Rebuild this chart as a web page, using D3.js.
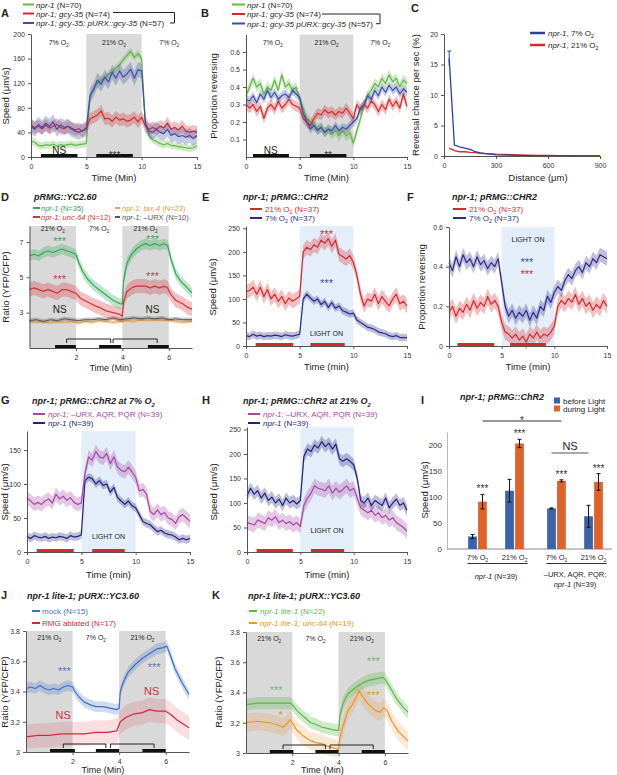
<!DOCTYPE html>
<html><head><meta charset="utf-8">
<script src="https://cdn.jsdelivr.net/npm/d3@7"></script>
<style>
body{margin:0;background:#fff;}
svg{font-family:"Liberation Sans",Arial,sans-serif;}
</style></head>
<body><svg id="svg" width="617" height="775"></svg>
<script>
// ---- data ----
// 15-min assays sampled every 20 s
const t15 = d3.range(46).map(i => +(i / 3).toFixed(3));

// A: speed (um/s)
const aGreen = [26,24,19,18,20,19,21,18,20,19,20,21,19,20,21, 22, 98,112,120,125,128,135,138,145,150,158,165,172,162,168, 160, 55,35,28,25,22,20,22,19,18,17,16,15,14,15,18];
const aRed = [52,48,50,46,52,47,50,53,48,46,50,47,44,46,42, 48, 62,65,68,75,62,63,58,65,60,62,58,60,65,57, 65, 50,45,48,45,50,47,55,45,48,44,50,42,40,42,40];
const aBlue = [50,45,53,48,55,50,57,45,52,48,50,45,42,40,43, 45, 100,110,125,118,130,122,138,128,140,130,135,143,128,142, 140, 55,42,40,45,40,38,45,35,38,33,35,32,35,30,35];
// B: proportion reversing
const bGreen = [0.35,0.40,0.45,0.40,0.42,0.36,0.40,0.38,0.44,0.38,0.47,0.40,0.42,0.38,0.40, 0.33, 0.28,0.22,0.20,0.18,0.16,0.17,0.14,0.16,0.13,0.15,0.12,0.15,0.12,0.14, 0.08, 0.15,0.22,0.30,0.35,0.38,0.42,0.40,0.45,0.42,0.47,0.43,0.45,0.40,0.44,0.42];
const bRed = [0.30,0.28,0.30,0.26,0.29,0.22,0.28,0.30,0.27,0.32,0.28,0.30,0.33,0.30,0.29, 0.28, 0.22,0.20,0.18,0.22,0.25,0.24,0.27,0.25,0.26,0.24,0.26,0.25,0.28,0.25, 0.22, 0.30,0.27,0.30,0.28,0.32,0.30,0.26,0.30,0.27,0.33,0.29,0.32,0.28,0.36,0.29];
const bBlue = [0.33,0.32,0.35,0.31,0.36,0.33,0.38,0.34,0.37,0.33,0.35,0.36,0.34,0.38,0.36, 0.34, 0.25,0.20,0.16,0.18,0.15,0.17,0.14,0.16,0.15,0.18,0.15,0.17,0.16,0.18, 0.20, 0.22,0.28,0.30,0.35,0.33,0.38,0.35,0.40,0.37,0.41,0.38,0.40,0.36,0.39,0.37];
// C: reversal chance vs distance
const cDist = [30,60,90,120,150,180,210,240,270,300,360,420,480,540,600,660,720,780,840,900];
const cBlue = [16,1.8,1.5,1.3,1.1,0.7,0.5,0.4,0.3,0.2,0.15,0.1,0.05,0.05,0.03,0.02,0.02,0.01,0.01,0];
const cRed = [1.3,0.9,0.7,0.7,0.6,0.55,0.45,0.4,0.35,0.3,0.25,0.2,0.15,0.1,0.08,0.05,0.04,0.03,0.02,0.01];
const cBlueErr0 = 1.2;
// D: RMG YC2.60 ratio, [min, ratio]
const dGreen = [[0,6.2],[0.2,6.3],[0.4,6.2],[0.6,6.4],[0.8,6.5],[1.0,6.4],[1.2,6.5],[1.4,6.6],[1.6,6.5],[1.8,6.4],[2.0,6.3],[2.1,5.9],[2.3,5.3],[2.5,4.9],[2.8,4.5],[3.0,4.3],[3.3,4.0],[3.6,3.7],[3.9,3.5],[4.0,3.5],[4.05,4.8],[4.2,5.8],[4.4,6.3],[4.6,6.6],[4.8,6.8],[5.0,6.9],[5.2,6.8],[5.4,6.9],[5.6,6.8],[5.8,6.9],[5.95,6.8],[6.1,6.0],[6.3,5.2],[6.5,4.8],[6.8,4.4],[7.0,4.1]];
const dRed = [[0,4.3],[0.2,4.4],[0.4,4.3],[0.6,4.2],[0.8,4.3],[1.0,4.2],[1.2,4.1],[1.4,4.3],[1.6,4.3],[1.8,4.2],[2.0,4.1],[2.2,3.8],[2.5,3.6],[2.8,3.4],[3.0,3.3],[3.3,3.1],[3.6,3.0],[3.9,2.9],[4.0,2.8],[4.05,3.6],[4.2,4.2],[4.4,4.4],[4.6,4.5],[4.8,4.5],[5.0,4.5],[5.2,4.4],[5.4,4.5],[5.6,4.4],[5.8,4.5],[5.95,4.4],[6.1,4.0],[6.3,3.7],[6.6,3.5],[6.8,3.3],[7.0,3.2]];
const dOrange = [[0,2.5],[0.3,2.45],[0.6,2.5],[0.9,2.4],[1.2,2.5],[1.5,2.45],[1.8,2.5],[2.1,2.4],[2.4,2.5],[2.7,2.45],[3.0,2.55],[3.3,2.5],[3.6,2.45],[3.9,2.5],[4.2,2.55],[4.5,2.5],[4.8,2.6],[5.1,2.55],[5.4,2.6],[5.7,2.55],[6.0,2.6],[6.3,2.5],[6.6,2.45],[7.0,2.5]];
const dGray = [[0,2.55],[0.3,2.6],[0.6,2.5],[0.9,2.6],[1.2,2.55],[1.5,2.65],[1.8,2.6],[2.1,2.55],[2.4,2.6],[2.7,2.6],[3.0,2.65],[3.3,2.6],[3.6,2.7],[3.9,2.6],[4.2,2.65],[4.5,2.7],[4.8,2.65],[5.1,2.7],[5.4,2.65],[5.7,2.7],[6.0,2.6],[6.3,2.65],[6.6,2.6],[7.0,2.6]];
// E/F: ChR2 in RMG, 21% vs 7% O2
const eRed = [115,118,125,110,125,105,120,100,110,95,105,90,102,95,100, 105, 200,210,205,215,210,225,218,228,212,225,195,190,185,192, 178, 150,110,85,100,95,110,90,105,95,85,100,110,90,95,85];
const eBlue = [22,20,25,21,23,20,22,21,23,22,20,24,22,21,23, 25, 100,110,102,95,100,88,95,82,92,80,85,75,72,68, 70, 55,50,45,40,38,35,30,28,26,22,20,22,18,18,18];
const fBlue = [0.42,0.38,0.45,0.40,0.46,0.42,0.44,0.40,0.45,0.41,0.43,0.39,0.42,0.40,0.44, 0.32, 0.20,0.15,0.18,0.14,0.17,0.15,0.18,0.13,0.17,0.14,0.20,0.18,0.25,0.22, 0.27, 0.30,0.28,0.33,0.36,0.34,0.38,0.40,0.37,0.42,0.40,0.44,0.42,0.46,0.45,0.44];
const fRed = [0.17,0.20,0.15,0.19,0.17,0.21,0.18,0.23,0.19,0.22,0.20,0.25,0.21,0.23,0.20, 0.12, 0.07,0.06,0.04,0.06,0.03,0.05,0.02,0.06,0.04,0.07,0.04,0.06,0.05,0.07, 0.10, 0.20,0.23,0.21,0.24,0.22,0.26,0.21,0.24,0.20,0.22,0.18,0.21,0.19,0.23,0.20];
// G/H: -URX,AQR,PQR vs npr-1
const gPurple = [80,75,70,73,70,75,78,72,85,78,82,76,80,73,70, 72, 115,140,135,148,140,138,145,130,140,125,120,118,125,118, 110, 90,92,85,60,55,62,55,58,50,48,42,52,55,50,45];
const gNavy = [23,20,24,22,21,23,20,22,21,23,22,20,24,22,23, 25, 105,110,108,100,105,98,100,88,95,80,75,70,75,68, 65, 55,45,42,40,35,30,32,28,26,25,22,18,20,18,20];
const hNavy = [115,130,118,125,110,120,105,112,100,108,95,110,100,105,98, 105, 195,210,205,218,212,225,215,222,210,220,190,185,190,185, 178, 150,105,100,110,95,105,100,95,110,90,100,108,95,100,85];
const hPurple = [60,58,55,65,62,58,70,65,72,60,65,58,62,55,60, 52, 95,110,120,135,130,128,125,135,120,130,122,128,135,125, 130, 110,90,85,80,85,75,80,70,75,65,70,60,55,50,42];
// I: bar chart
const iGroups = ["npr-1", "URX"];
const iConds = ["7%", "21%"];
const iPhases = ["before", "during"];
const iBefore = [24, 112, 78, 63];
const iBeforeErr = [4, 22, 1, 21];
const iDuring = [91, 203, 131, 129];
const iDuringErr = [14, 8, 2, 16];
// J/K: URX YC3.60 ratio
const jMock = [[0,3.42],[0.2,3.43],[0.4,3.42],[0.6,3.44],[0.8,3.42],[1.0,3.41],[1.2,3.42],[1.4,3.41],[1.6,3.43],[1.8,3.44],[2.0,3.43],[2.1,3.40],[2.3,3.36],[2.5,3.33],[2.8,3.31],[3.0,3.30],[3.3,3.30],[3.6,3.29],[3.9,3.28],[4.0,3.29],[4.05,3.40],[4.2,3.47],[4.4,3.53],[4.7,3.58],[5.0,3.62],[5.3,3.65],[5.6,3.68],[5.9,3.69],[6.05,3.70],[6.2,3.64],[6.4,3.55],[6.7,3.46],[7.0,3.38]];
const jRmg = [[0,3.10],[0.5,3.11],[1.0,3.11],[1.5,3.12],[2.0,3.12],[2.5,3.12],[3.0,3.13],[3.5,3.13],[3.9,3.14],[4.05,3.20],[4.3,3.23],[4.6,3.25],[5.0,3.26],[5.3,3.28],[5.6,3.27],[6.0,3.27],[6.2,3.25],[6.5,3.21],[6.8,3.18],[7.0,3.16]];
const kGreen = [[0,3.32],[0.5,3.33],[1.0,3.33],[1.5,3.33],[1.9,3.33],[2.0,3.32],[2.2,3.28],[2.5,3.24],[2.8,3.20],[3.0,3.19],[3.3,3.17],[3.6,3.16],[3.9,3.15],[4.0,3.15],[4.05,3.24],[4.2,3.33],[4.4,3.39],[4.7,3.43],[5.0,3.46],[5.3,3.48],[5.6,3.49],[5.9,3.50],[6.0,3.49],[6.2,3.44],[6.5,3.36],[6.8,3.30],[7.0,3.27]];
const kOrange = [[0,3.20],[0.5,3.21],[1.0,3.20],[1.3,3.19],[1.6,3.17],[1.75,3.19],[1.9,3.22],[2.0,3.20],[2.2,3.15],[2.5,3.11],[2.8,3.08],[3.0,3.07],[3.3,3.06],[3.6,3.04],[3.9,3.03],[4.0,3.02],[4.05,3.10],[4.2,3.18],[4.4,3.28],[4.6,3.32],[4.8,3.38],[4.9,3.41],[5.1,3.36],[5.3,3.32],[5.6,3.28],[5.8,3.27],[5.95,3.30],[6.1,3.28],[6.3,3.21],[6.6,3.14],[7.0,3.08]];

// ---- helpers ----
const svg = d3.select("svg");
const GRAY = "#d9d9d9", LBLUE = "#e4eef9", BARRED = "#d42a2f";
const zip = v => t15.map((t, i) => [t, v[i]]);

// "{...}" italic, "~x" subscript x
function rich(t, s, fs) {
  let it = false, buf = "", dy = 0;
  const flush = () => {
    if (!buf) return;
    const sp = t.append("tspan").text(buf);
    if (it) sp.attr("font-style", "italic");
    if (dy) { sp.attr("dy", dy); dy = 0; }
    buf = "";
  };
  for (let i = 0; i < s.length; i++) {
    const c = s[i];
    if (c === "{") { flush(); it = true; }
    else if (c === "}") { flush(); it = false; }
    else if (c === "~") {
      flush(); i++;
      t.append("tspan").attr("font-size", fs * 0.65).attr("dy", dy + fs * 0.3).text(s[i]);
      dy = -fs * 0.3;
    } else buf += c;
  }
  flush();
}
function label(x, y, s, o = {}) {
  const fs = o.fs || 8;
  const t = svg.append("text").attr("x", x).attr("y", y)
    .attr("font-size", fs).attr("fill", o.c || "#222")
    .attr("text-anchor", o.a || "start");
  if (o.b) t.attr("font-weight", "bold");
  if (o.i) t.attr("font-style", "italic");
  if (o.r) t.attr("transform", `rotate(-90,${x},${y})`);
  rich(t, s, fs);
  return t;
}
function axes(x, y, xt, yt) {
  const gx = svg.append("g").attr("transform", `translate(0,${y.range()[0]})`)
    .call(d3.axisBottom(x).tickValues(xt).tickSize(3).tickSizeOuter(0).tickFormat(d => d));
  const gy = svg.append("g").attr("transform", `translate(${x.range()[0]},0)`)
    .call(d3.axisLeft(y).tickValues(yt).tickSize(3).tickSizeOuter(0).tickFormat(d => d));
  [gx, gy].forEach(g => {
    g.attr("font-family", null).attr("font-size", 7);
    g.selectAll("text").attr("fill", "#333");
    g.selectAll("line,path").attr("stroke", "#555");
  });
  gx.selectAll("text").attr("dy", "0.8em");
}
function shade(x, y, a, b, fill) {
  const [yb, yt] = y.range();
  svg.append("rect").attr("x", x(a)).attr("y", yt).attr("width", x(b) - x(a))
    .attr("height", yb - yt).attr("fill", fill);
}
function trace(x, y, pts, sem, color, w = 1.2, op = 0.3) {
  svg.append("path").datum(pts).attr("fill", color).attr("fill-opacity", op)
    .attr("d", d3.area().x(d => x(d[0])).y0(d => y(d[1] - sem)).y1(d => y(d[1] + sem)));
  svg.append("path").datum(pts).attr("fill", "none").attr("stroke", color)
    .attr("stroke-width", w).attr("stroke-linejoin", "round")
    .attr("d", d3.line().x(d => x(d[0])).y(d => y(d[1])));
}
function hbar(x, yy, a, b, color = "#111") {
  svg.append("line").attr("x1", x(a)).attr("x2", x(b)).attr("y1", yy).attr("y2", yy)
    .attr("stroke", color).attr("stroke-width", 3);
}
function bracket(x, yy, a, b) {
  svg.append("path").attr("d", `M${x(a)},${yy + 4}V${yy}H${x(b)}V${yy + 4}`)
    .attr("fill", "none").attr("stroke", "#222").attr("stroke-width", 1);
}
function lline(x1, x2, yy, color, w = 2) {
  svg.append("line").attr("x1", x1).attr("x2", x2).attr("y1", yy).attr("y2", yy)
    .attr("stroke", color).attr("stroke-width", w);
}
function stars(x, yy, s, color = "#333", fs = 10) {
  label(x, yy, s, {a: "middle", fs: fs, c: color});
}

// ---- A ----
{
  const x = d3.scaleLinear().domain([0, 15]).range([31, 197]);
  const y = d3.scaleLinear().domain([0, 200]).range([157, 34]);
  shade(x, y, 5, 10, GRAY);
  ["7% O~2", "21% O~2", "7% O~2"].forEach((s, i) => label(x(2.5 + 5 * i), 45, s, {a: "middle", fs: 7}));
  trace(x, y, zip(aGreen), 6, "#62b848");
  trace(x, y, zip(aRed), 10, "#d42a2f");
  trace(x, y, zip(aBlue), 12, "#3b4fa6");
  axes(x, y, [0, 5, 10, 15], [0, 40, 80, 120, 160, 200]);
  hbar(x, 155.5, 0.9, 4.2); hbar(x, 155.5, 5.9, 9.2);
  label(x(2.55), 153.5, "NS", {a: "middle", fs: 10});
  stars(x(7.55), 159, "***");
  label(x(7.5), 181, "Time (Min)", {a: "middle", fs: 9.5});
  label(9, 96, "Speed (μm/s)", {a: "middle", fs: 9.5, r: true});
  label(1, 17, "A", {b: true, fs: 11});
  lline(23, 34, 4.5, "#62b848"); lline(23, 34, 13.5, "#d42a2f"); lline(23, 34, 23, "#3b4fa6");
  label(36, 7.5, "{npr-1}  (N=70)");
  label(36, 16.5, "{npr-1; gcy-35} (N=74)");
  label(36, 26, "{npr-1; gcy-35; pURX::gcy-35} (N=57)");
  svg.append("path").attr("d", "M113,12.5H174.5V23H170").attr("fill", "none").attr("stroke", "#222");
}

// ---- B ----
{
  const x = d3.scaleLinear().domain([0, 15]).range([246, 407]);
  const y = d3.scaleLinear().domain([0, 0.7]).range([157, 34.5]);
  shade(x, y, 5, 10, GRAY);
  ["7% O~2", "21% O~2", "7% O~2"].forEach((s, i) => label(x(2.5 + 5 * i), 45, s, {a: "middle", fs: 7}));
  trace(x, y, zip(bGreen), 0.03, "#62b848");
  trace(x, y, zip(bRed), 0.03, "#d42a2f");
  trace(x, y, zip(bBlue), 0.025, "#3b4fa6");
  axes(x, y, [0, 5, 10, 15], [0.1, 0.2, 0.3, 0.4, 0.5, 0.6]);
  hbar(x, 155.5, 0.65, 4.0); hbar(x, 155.5, 5.95, 9.35);
  label(x(2.3), 153.5, "NS", {a: "middle", fs: 10});
  stars(x(7.65), 159, "**");
  label(x(7.5), 181, "Time (Min)", {a: "middle", fs: 9.5});
  label(217, 96, "Proportion reversing", {a: "middle", fs: 9.5, r: true});
  label(201, 17, "B", {b: true, fs: 11});
  lline(232, 245, 4.5, "#62b848"); lline(232, 245, 14, "#d42a2f"); lline(232, 245, 23.5, "#3b4fa6");
  label(247, 7.5, "{npr-1}  (N=70)");
  label(247, 17, "{npr-1; gcy-35} (N=74)");
  label(247, 26.5, "{npr-1; gcy-35 pURX::gcy-35} (N=57)");
  svg.append("path").attr("d", "M322,14H380V23.7H376").attr("fill", "none").attr("stroke", "#222");
}

// ---- C ----
{
  const x = d3.scaleLinear().domain([0, 900]).range([444, 600]);
  const y = d3.scaleLinear().domain([0, 20]).range([156, 34]);
  const line = d3.line().x(d => x(d[0])).y(d => y(d[1]));
  svg.append("path").datum(cDist.map((d, i) => [d, cRed[i]])).attr("d", line)
    .attr("fill", "none").attr("stroke", "#d42a2f").attr("stroke-width", 1.3);
  svg.append("path").datum(cDist.map((d, i) => [d, cBlue[i]])).attr("d", line)
    .attr("fill", "none").attr("stroke", "#2e3f9e").attr("stroke-width", 1.3);
  const ex = x(cDist[0]);
  svg.append("path").attr("d", `M${ex},${y(cBlue[0] - cBlueErr0)}V${y(cBlue[0] + cBlueErr0)}M${ex - 2},${y(cBlue[0] + cBlueErr0)}H${ex + 2}`)
    .attr("stroke", "#2e3f9e").attr("fill", "none");
  axes(x, y, [0, 300, 600, 900], [0, 5, 10, 15, 20]);
  lline(530, 545, 33, "#2e3f9e", 2.5); lline(530, 545, 45, "#d42a2f", 2.5);
  label(548, 36, "{npr-1}, 7% O~2");
  label(548, 48, "{npr-1}, 21% O~2");
  label(538, 181, "Distance (μm)", {a: "middle", fs: 9.5});
  label(419, 95, "Reversal chance per sec (%)", {a: "middle", fs: 9.5, r: true});
  label(411, 12, "C", {b: true, fs: 11});
}

// ---- D ----
{
  const x = d3.scaleLinear().domain([0, 7]).range([29.5, 192]);
  const y = d3.scaleLinear().domain([1, 7.9]).range([348, 226]);
  shade(x, y, 0, 2, GRAY); shade(x, y, 4, 6, GRAY);
  ["21% O~2", "7% O~2", "21% O~2"].forEach((s, i) => label(x(1 + 2 * i), 231, s, {a: "middle", fs: 7}));
  trace(x, y, dOrange, 0.1, "#f2a23a", 1);
  trace(x, y, dGray, 0.12, "#555555", 1);
  trace(x, y, dRed, 0.4, "#d3333b");
  trace(x, y, dGreen, 0.3, "#2eaa55");
  axes(x, y, [2, 4, 6], [3, 5, 7]);
  stars(x(1.3), 245, "***", "#3aa85a", 11); stars(x(1.3), 283, "***", "#c83c55", 11);
  stars(x(5.3), 243, "***", "#3aa85a", 11); stars(x(5.3), 280, "***", "#c83c55", 11);
  label(x(1.3), 313, "NS", {a: "middle", fs: 10}); label(x(5.3), 313, "NS", {a: "middle", fs: 10});
  hbar(x, 346.5, 1.1, 2); hbar(x, 346.5, 3, 3.95); hbar(x, 346.5, 5.1, 6);
  bracket(x, 339, 1.6, 3.5); bracket(x, 339, 3.6, 5.5);
  label(x(3.5), 371, "Time (Min)", {a: "middle", fs: 9});
  label(9, 287, "Ratio (YFP/CFP)", {a: "middle", fs: 9.5, r: true});
  label(1, 201, "D", {b: true, fs: 11});
  label(34, 200, "pRMG::YC2.60", {b: true, i: true, fs: 9});
  lline(33, 40, 208, "#2eaa55"); lline(33, 40, 217, "#d3333b");
  lline(115, 120, 208, "#f2a23a"); lline(115, 120, 217, "#555");
  label(41, 211, "{npr-1} (N=35)", {c: "#2eaa55", fs: 7.5});
  label(41, 220, "{npr-1; unc-64} (N=12)", {c: "#d3333b", fs: 7.5});
  label(122, 211, "{npr-1; tax-4} (N=23)", {c: "#e89a30", fs: 7.5});
  label(122, 220, "{npr-1;} –URX (N=10)", {c: "#555", fs: 7.5});
}

// ---- E ----
{
  const x = d3.scaleLinear().domain([0, 15]).range([246, 407]);
  const y = d3.scaleLinear().domain([0, 255]).range([346, 226]);
  shade(x, y, 5, 10, LBLUE);
  label(x(7.5), 336, "LIGHT ON", {a: "middle", fs: 7});
  trace(x, y, zip(eRed), 15, "#d42a2f");
  trace(x, y, zip(eBlue), 8, "#2b2b8c");
  axes(x, y, [0, 5, 10, 15], [0, 50, 100, 150, 200, 250]);
  hbar(x, 344.5, 0.9, 4.4, BARRED); hbar(x, 344.5, 6, 9.2, BARRED);
  stars(x(7.5), 238, "***", "#d42a2f", 11); stars(x(7.5), 287, "***", "#4a4aa8", 11);
  label(x(7.5), 370, "Time (min)", {a: "middle", fs: 9.5});
  label(216, 287, "Speed (μm/s)", {a: "middle", fs: 9.5, r: true});
  label(202, 201, "E", {b: true, fs: 11});
  label(243, 200, "npr-1; pRMG::CHR2", {b: true, i: true, fs: 9});
  lline(250, 262, 209, "#d42a2f"); lline(250, 262, 218, "#2b2b8c");
  label(265, 212, "21% O~2 (N=37)", {c: "#d42a2f"});
  label(265, 221, "7% O~2 (N=37)", {c: "#2b2b8c"});
}

// ---- F ----
{
  const x = d3.scaleLinear().domain([0, 15]).range([449, 607]);
  const y = d3.scaleLinear().domain([0, 0.6]).range([346, 227]);
  shade(x, y, 5, 10, LBLUE);
  label(x(7.5), 242, "LIGHT ON", {a: "middle", fs: 7});
  trace(x, y, zip(fRed), 0.04, "#d42a2f");
  trace(x, y, zip(fBlue), 0.035, "#2b2b8c");
  axes(x, y, [0, 5, 10, 15], [0, 0.2, 0.4, 0.6]);
  hbar(x, 344.5, 0.8, 4.3, BARRED); hbar(x, 344.5, 5.8, 9.2, BARRED);
  stars(x(7.4), 266, "***", "#4a4aa8", 11); stars(x(7.4), 278, "***", "#d42a2f", 11);
  label(x(7.5), 370, "Time (min)", {a: "middle", fs: 9.5});
  label(425, 287, "Proportion reversing", {a: "middle", fs: 9.5, r: true});
  label(407, 201, "F", {b: true, fs: 11});
  label(452, 200, "npr-1; pRMG::CHR2", {b: true, i: true, fs: 9});
  lline(453, 466, 209, "#d42a2f"); lline(453, 466, 218, "#2b2b8c");
  label(469, 212, "21% O~2 (N=37)", {c: "#d42a2f"});
  label(469, 221, "7% O~2 (N=37)", {c: "#2b2b8c"});
}

// ---- G ----
{
  const x = d3.scaleLinear().domain([0, 15]).range([27, 190]);
  const y = d3.scaleLinear().domain([0, 178]).range([552, 431]);
  shade(x, y, 5, 10, LBLUE);
  label(x(7.5), 539, "LIGHT ON", {a: "middle", fs: 7});
  trace(x, y, zip(gNavy), 6, "#23237f");
  trace(x, y, zip(gPurple), 10, "#a448a4");
  axes(x, y, [0, 5, 10, 15], [0, 50, 100, 150]);
  hbar(x, 550.5, 0.9, 4.3, BARRED); hbar(x, 550.5, 6, 9, BARRED);
  label(x(7.5), 578, "Time  (min)", {a: "middle", fs: 9.5});
  label(8, 492, "Speed (μm/s)", {a: "middle", fs: 9.5, r: true});
  label(1, 404, "G", {b: true, fs: 11});
  label(32, 404, "npr-1; pRMG::ChR2 at 7% O~2", {b: true, i: true, fs: 9});
  lline(33, 45, 414, "#a448a4"); lline(33, 45, 423, "#23237f");
  label(48, 417, "{npr-1;} –URX, AQR, PQR (N=39)", {c: "#a448a4"});
  label(48, 426, "{npr-1} (N=39)", {c: "#23237f"});
}

// ---- H ----
{
  const x = d3.scaleLinear().domain([0, 15]).range([247, 407]);
  const y = d3.scaleLinear().domain([0, 255]).range([552, 427]);
  shade(x, y, 5, 10, LBLUE);
  label(x(7.5), 533, "LIGHT ON", {a: "middle", fs: 7});
  trace(x, y, zip(hPurple), 15, "#a448a4");
  trace(x, y, zip(hNavy), 12, "#23237f");
  axes(x, y, [0, 5, 10, 15], [0, 50, 100, 150, 200, 250]);
  hbar(x, 550.5, 0.9, 4.3, BARRED); hbar(x, 550.5, 6, 9.1, BARRED);
  label(x(7.5), 578, "Time (min)", {a: "middle", fs: 9.5});
  label(217, 492, "Speed (μm/s)", {a: "middle", fs: 9.5, r: true});
  label(202, 404, "H", {b: true, fs: 11});
  label(243, 404, "npr-1; pRMG::ChR2 at 21% O~2", {b: true, i: true, fs: 9});
  lline(248, 260, 414, "#a448a4"); lline(248, 260, 423, "#23237f");
  label(263, 417, "{npr-1;} –URX, AQR, PQR (N=39)", {c: "#a448a4"});
  label(263, 426, "{npr-1} (N=39)", {c: "#23237f"});
}

// ---- I ----
{
  const y = d3.scaleLinear().domain([0, 225]).range([549, 432]);
  const xo = d3.scaleBand().domain(iGroups).range([456.5, 614.5]).paddingInner(0.1).paddingOuter(0.05);
  const xi = d3.scaleBand().domain(iConds).range([0, xo.bandwidth()]).paddingInner(0.2).paddingOuter(0.06);
  const xp = d3.scaleBand().domain(iPhases).range([0, xi.bandwidth()]).paddingInner(0.12).paddingOuter(0.55);
  const cols = {before: "#3b63a8", during: "#e0622b"};
  const rows = [];
  iGroups.forEach((g, gi) => iConds.forEach((c, ci) => {
    const k = gi * 2 + ci;
    rows.push({g, c, k, x0: xo(g) + xi(c)});
  }));
  const gy = svg.append("g").attr("transform", "translate(447,0)")
    .call(d3.axisLeft(y).tickValues([0, 50, 100, 150, 200]).tickSize(0).tickPadding(5));
  gy.attr("font-family", null).attr("font-size", 8);
  gy.selectAll("text").attr("fill", "#333");
  gy.select("path").attr("stroke", "#bbb");
  svg.append("line").attr("x1", 447).attr("x2", 612).attr("y1", y(0)).attr("y2", y(0)).attr("stroke", "#888");
  rows.forEach(r => {
    [["before", iBefore, iBeforeErr], ["during", iDuring, iDuringErr]].forEach(([p, v, e]) => {
      const bx = r.x0 + xp(p), cx = bx + xp.bandwidth() / 2;
      svg.append("rect").attr("x", bx).attr("y", y(v[r.k])).attr("width", xp.bandwidth())
        .attr("height", y(0) - y(v[r.k])).attr("fill", cols[p]);
      svg.append("path").attr("d", `M${cx},${y(v[r.k] - e[r.k])}V${y(v[r.k] + e[r.k])}M${cx - 2},${y(v[r.k] - e[r.k])}H${cx + 2}M${cx - 2},${y(v[r.k] + e[r.k])}H${cx + 2}`)
        .attr("stroke", "#111").attr("stroke-width", 1).attr("fill", "none");
    });
    const ox = r.x0 + xp("during") + xp.bandwidth() / 2;
    stars(ox, y(iDuring[r.k] + iDuringErr[r.k]) - 2, "***", "#333", 10);
    label(r.x0 + xi.bandwidth() / 2, 560, r.c + " O~2", {a: "middle", fs: 7.5});
  });
  const cen = (r, p) => r.x0 + xp(p) + xp.bandwidth() / 2;
  svg.append("line").attr("x1", cen(rows[0], "during")).attr("x2", cen(rows[2], "during"))
    .attr("y1", 421).attr("y2", 421).attr("stroke", "#777").attr("stroke-width", 1.5);
  stars((cen(rows[0], "during") + cen(rows[2], "during")) / 2, 424, "*", "#333", 10);
  svg.append("line").attr("x1", cen(rows[2], "before")).attr("x2", cen(rows[3], "before"))
    .attr("y1", 453).attr("y2", 453).attr("stroke", "#555").attr("stroke-width", 1.2);
  label((cen(rows[2], "before") + cen(rows[3], "before")) / 2, 450, "NS", {a: "middle", fs: 11});
  iGroups.forEach(g => {
    svg.append("line").attr("x1", xo(g) + 7).attr("x2", xo(g) + xo.bandwidth() - 4)
      .attr("y1", 563.5).attr("y2", 563.5).attr("stroke", "#333").attr("stroke-width", 1.2);
  });
  const c1 = xo("npr-1") + xo.bandwidth() / 2, c2 = xo("URX") + xo.bandwidth() / 2;
  label(c1, 579, "{npr-1} (N=39)", {a: "middle", fs: 7.5});
  label(c2, 577, "–URX, AQR, PQR;", {a: "middle", fs: 7.5});
  label(c2, 587, "{npr-1} (N=39)", {a: "middle", fs: 7.5});
  label(428, 490, "Speed (μm/s)", {a: "middle", fs: 9.5, r: true});
  label(421, 404, "I", {b: true, fs: 11});
  label(460, 400, "npr-1; pRMG::ChR2", {b: true, i: true, fs: 9});
  svg.append("rect").attr("x", 554).attr("y", 397.5).attr("width", 6).attr("height", 6).attr("fill", cols.before);
  svg.append("rect").attr("x", 554).attr("y", 405.5).attr("width", 6).attr("height", 6).attr("fill", cols.during);
  label(563, 404, "before Light", {fs: 8});
  label(563, 412, "during Light", {fs: 8});
}

// ---- J ----
{
  const x = d3.scaleLinear().domain([0, 7]).range([26, 189]);
  const y = d3.scaleLinear().domain([3, 3.8]).range([752, 631]);
  shade(x, y, 0, 2, GRAY); shade(x, y, 4, 6, GRAY);
  ["21% O~2", "7% O~2", "21% O~2"].forEach((s, i) => label(x(1 + 2 * i), 640, s, {a: "middle", fs: 7}));
  trace(x, y, jRmg, 0.08, "#d5283a", 1.2, 0.15);
  trace(x, y, jMock, 0.035, "#3e6fc2", 1.2, 0.25);
  axes(x, y, [2, 4, 6], [3, 3.2, 3.4, 3.6, 3.8]);
  stars(x(1.65), 675, "***", "#5577bb", 11); stars(x(5.5), 671, "***", "#5577bb", 11);
  label(x(1.6), 719, "NS", {a: "middle", fs: 11, c: "#c8323c"});
  label(x(5.4), 695, "NS", {a: "middle", fs: 11, c: "#c8323c"});
  hbar(x, 750.5, 1.03, 2.1); hbar(x, 750.5, 3, 4); hbar(x, 750.5, 5, 6);
  bracket(x, 744, 1.6, 3.43); bracket(x, 744, 3.63, 5.5);
  label(x(3.3), 773, "Time (Min)", {a: "middle", fs: 9});
  label(8, 692, "Ratio (YFP/CFP)", {a: "middle", fs: 9.5, r: true});
  label(1, 599, "J", {b: true, fs: 11});
  label(27, 599, "npr-1 lite-1;  pURX::YC3.60", {b: true, i: true, fs: 9});
  lline(32, 40, 611, "#3e6fc2"); lline(32, 40, 623, "#d5283a");
  label(42, 614, "mock (N=15)", {c: "#3e6fc2"});
  label(42, 626, "RMG ablated (N=17)", {c: "#d5283a"});
}

// ---- K ----
{
  const x = d3.scaleLinear().domain([0, 7]).range([246, 408]);
  const y = d3.scaleLinear().domain([3, 3.8]).range([753, 632]);
  shade(x, y, 0, 2, GRAY); shade(x, y, 4, 6, GRAY);
  ["21% O~2", "7% O~2", "21% O~2"].forEach((s, i) => label(x(1 + 2 * i), 641, s, {a: "middle", fs: 7}));
  trace(x, y, kOrange, 0.06, "#ee9226", 1.2, 0.2);
  trace(x, y, kGreen, 0.04, "#5cb84a", 1.2, 0.3);
  axes(x, y, [2, 4, 6], [3, 3.2, 3.4, 3.6, 3.8]);
  stars(x(1.3), 694, "***", "#6cbf5c", 11); stars(x(1.5), 719, "*", "#ee9226", 11);
  stars(x(5.5), 665, "***", "#6cbf5c", 11); stars(x(5.5), 699, "***", "#ee9226", 11);
  hbar(x, 751.5, 1.03, 2.05); hbar(x, 751.5, 3, 4); hbar(x, 751.5, 5, 6);
  bracket(x, 745, 1.6, 3.43); bracket(x, 745, 3.63, 5.5);
  label(x(3.3), 773, "Time (Min)", {a: "middle", fs: 9});
  label(222, 692, "Ratio (YFP/CFP)", {a: "middle", fs: 9.5, r: true});
  label(212, 599, "K", {b: true, fs: 11});
  label(248, 599, "npr-1 lite-1;  pURX::YC3.60", {b: true, i: true, fs: 9});
  lline(249, 257, 611, "#5cb84a"); lline(249, 257, 623, "#ee9226");
  label(260, 614, "{npr-1 lite-1}  (N=22)", {c: "#5cb84a"});
  label(260, 626, "{npr-1 lite-1; unc-64}  (N=19)", {c: "#ee9226"});
}
</script></body></html>
